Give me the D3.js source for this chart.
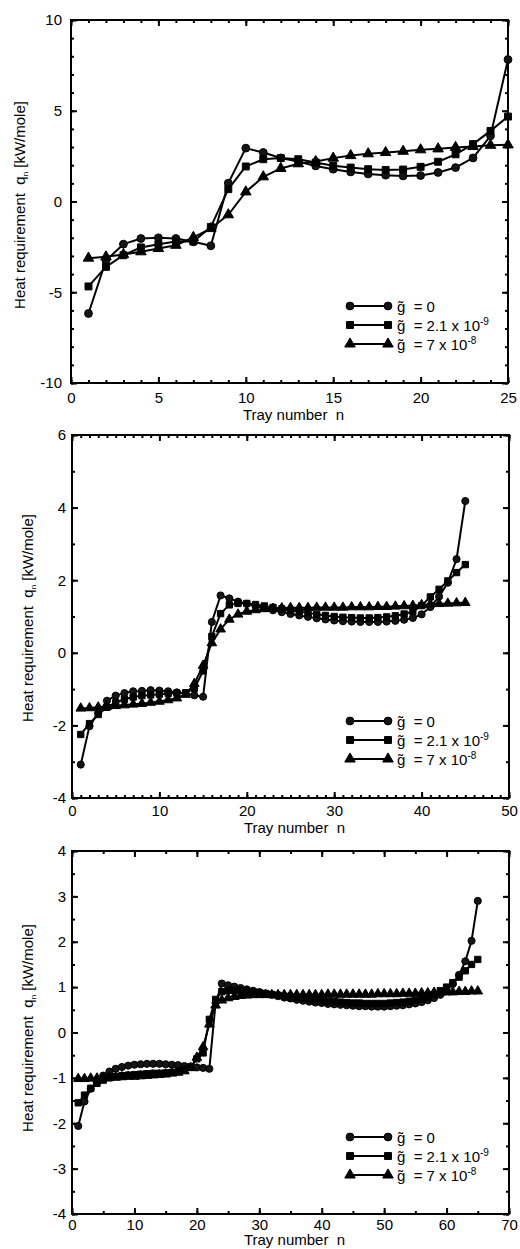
<!DOCTYPE html>
<html>
<head>
<meta charset="utf-8">
<script src="https://cdn.jsdelivr.net/npm/d3@7"></script>
<style>
  body { margin: 0; background: #fff; }
  svg { display: block; }
  text { font-family: "Liberation Sans", Arial, sans-serif; fill: #000; }
</style>
</head>
<body>
<script>
// Heat requirement q_n per tray, three towers (25, 45, 65 trays)
var legendLabels = ["= 0", "= 2.1 x 10", "= 7 x 10"];
var legendExps = ["", "-9", "-8"];

var p1XTicks = [0, 5, 10, 15, 20, 25];
var p1YTicks = [-10, -5, 0, 5, 10];
var p1Circle = [-6.17, -3.25, -2.35, -2.04, -2.0, -2.04, -2.22, -2.44, 1.01, 2.94,
  2.7, 2.4, 2.2, 1.96, 1.78, 1.63, 1.52, 1.45, 1.41, 1.43, 1.6, 1.87, 2.4, 3.62, 7.82];
var p1Square = [-4.68, -3.6, -2.96, -2.53, -2.35, -2.2, -2.2, -1.4, 0.68, 1.93,
  2.33, 2.39, 2.33, 2.15, 1.97, 1.87, 1.78, 1.74, 1.76, 1.91, 2.19, 2.6, 3.16, 3.89, 4.68];
var p1Triangle = [-3.12, -3.05, -2.92, -2.77, -2.59, -2.41, -1.98, -1.49, -0.73, 0.53,
  1.36, 1.82, 2.08, 2.2, 2.39, 2.53, 2.63, 2.7, 2.77, 2.85, 2.9, 2.98, 3.03, 3.1, 3.12];

var p2XTicks = [0, 10, 20, 30, 40, 50];
var p2YTicks = [-4, -2, 0, 2, 4, 6];
var p2Circle = [-3.08, -2.02, -1.66, -1.32, -1.18, -1.11, -1.06, -1.05, -1.03, -1.04,
  -1.06, -1.09, -1.12, -1.17, -1.21, 0.85, 1.58, 1.5, 1.41, 1.35,
  1.29, 1.23, 1.17, 1.12, 1.07, 1.03, 0.99, 0.95, 0.92, 0.89,
  0.87, 0.86, 0.85, 0.85, 0.85, 0.86, 0.88, 0.91, 0.96, 1.06,
  1.26, 1.55, 1.93, 2.58, 4.18];
var p2Square = [-2.25, -1.95, -1.7, -1.5, -1.37, -1.28, -1.22, -1.18, -1.16, -1.14,
  -1.12, -1.11, -1.1, -0.98, -0.5, 0.45, 1.08, 1.32, 1.36, 1.36,
  1.33, 1.29, 1.25, 1.21, 1.17, 1.13, 1.1, 1.06, 1.03, 1.0,
  0.98, 0.97, 0.96, 0.96, 0.97, 0.99, 1.02, 1.07, 1.14, 1.3,
  1.54, 1.75, 1.98, 2.21, 2.43];
var p2Triangle = [-1.53, -1.52, -1.5, -1.48, -1.46, -1.44, -1.42, -1.4, -1.37, -1.34,
  -1.3, -1.25, -1.15, -0.85, -0.35, 0.27, 0.65, 0.92, 1.06, 1.14,
  1.18, 1.21, 1.22, 1.23, 1.24, 1.24, 1.24, 1.25, 1.25, 1.25,
  1.25, 1.26, 1.26, 1.26, 1.27, 1.27, 1.28, 1.29, 1.3, 1.32,
  1.34, 1.35, 1.36, 1.37, 1.38];

var p3XTicks = [0, 10, 20, 30, 40, 50, 60, 70];
var p3YTicks = [-4, -3, -2, -1, 0, 1, 2, 3, 4];
var p3Circle = [-2.06, -1.52, -1.24, -1.1, -0.95, -0.86, -0.8, -0.76, -0.73, -0.71,
  -0.7, -0.69, -0.69, -0.69, -0.7, -0.71, -0.72, -0.74, -0.75, -0.77,
  -0.78, -0.8, 0.65, 1.08, 1.04, 1.01, 0.98, 0.95, 0.92, 0.89,
  0.86, 0.83, 0.8, 0.77, 0.75, 0.72, 0.7, 0.68, 0.66, 0.65,
  0.63, 0.62, 0.61, 0.6, 0.59, 0.58, 0.58, 0.57, 0.57, 0.57,
  0.58, 0.59, 0.6, 0.62, 0.64, 0.67, 0.71, 0.76, 0.83, 0.93,
  1.07, 1.27, 1.57, 2.02, 2.9];
var p3Square = [-1.55, -1.38, -1.23, -1.12, -1.05, -1.0, -0.97, -0.95, -0.94, -0.93,
  -0.92, -0.91, -0.9, -0.9, -0.89, -0.88, -0.86, -0.83, -0.76, -0.58,
  -0.45, 0.29, 0.73, 0.9, 0.93, 0.93, 0.92, 0.91, 0.9, 0.88,
  0.86, 0.84, 0.82, 0.8, 0.78, 0.77, 0.75, 0.73, 0.72, 0.7,
  0.69, 0.68, 0.67, 0.66, 0.65, 0.65, 0.64, 0.64, 0.64, 0.64,
  0.65, 0.66, 0.67, 0.69, 0.71, 0.74, 0.78, 0.84, 0.92, 1.0,
  1.1, 1.22, 1.36, 1.5, 1.61];
var p3Triangle = [-1.02, -1.02, -1.01, -1.01, -1.0, -0.99, -0.99, -0.98, -0.97, -0.97,
  -0.96, -0.95, -0.94, -0.93, -0.92, -0.9, -0.88, -0.85, -0.78, -0.55,
  -0.32, 0.18, 0.6, 0.71, 0.76, 0.79, 0.81, 0.82, 0.83, 0.83,
  0.83, 0.83, 0.83, 0.83, 0.83, 0.83, 0.83, 0.83, 0.83, 0.83,
  0.84, 0.84, 0.84, 0.84, 0.84, 0.84, 0.84, 0.84, 0.85, 0.85,
  0.85, 0.85, 0.86, 0.86, 0.86, 0.87, 0.87, 0.88, 0.88, 0.89,
  0.89, 0.9, 0.9, 0.91, 0.91];

var panels = [
  { top: 20, bottom: 383, left: 71, right: 508, xTicks: p1XTicks, yTicks: p1YTicks,
    xMinor: 1, yMinor: 1, series: [p1Circle, p1Square, p1Triangle],
    tickPad: 9, yTickPad: 9, titleBase: 37, yLabX: 25, yLabCy: 205, msize: 48 },
  { top: 435, bottom: 798, left: 72, right: 509, xTicks: p2XTicks, yTicks: p2YTicks,
    xMinor: 1, yMinor: 1, series: [p2Circle, p2Square, p2Triangle],
    tickPad: 7, yTickPad: 6, titleBase: 35, yLabX: 33, yLabCy: 618, msize: 40 },
  { top: 851, bottom: 1214, left: 72, right: 509, xTicks: p3XTicks, yTicks: p3YTicks,
    xMinor: 5, yMinor: 0.5, series: [p3Circle, p3Square, p3Triangle],
    tickPad: 5, yTickPad: 6, titleBase: 31, yLabX: 33, yLabCy: 1028, msize: 40 }
];

var symbols = [d3.symbolCircle, d3.symbolSquare, d3.symbolTriangle];
var plainNum = function (d) { return String(d); }; // hyphen minus like the original

var svg = d3.select("body").append("svg")
  .attr("width", 520)
  .attr("height", 1249);

panels.forEach(function (p) {
  var w = p.right - p.left;
  var h = p.bottom - p.top;
  var xs = p.xTicks, ys = p.yTicks;

  var x = d3.scaleLinear().domain([xs[0], xs[xs.length - 1]]).range([0, w]);
  var y = d3.scaleLinear().domain([ys[0], ys[ys.length - 1]]).range([h, 0]);

  var g = svg.append("g")
    .attr("transform", "translate(" + p.left + "," + p.top + ")");

  var xMinorVals = d3.range(xs[0], xs[xs.length - 1] + 1e-9, p.xMinor);
  var yMinorVals = d3.range(ys[0], ys[ys.length - 1] + 1e-9, p.yMinor);

  function styleAxis(sel) {
    sel.select(".domain").remove();
    sel.selectAll("line").attr("stroke", "#000").attr("stroke-width", 2);
    sel.selectAll("text").attr("font-size", 15)
      .style("font-family", "'Liberation Sans', Arial, sans-serif").attr("fill", "#000");
  }

  // minor ticks (inside, all four sides)
  g.append("g").attr("transform", "translate(0," + h + ")")
    .call(d3.axisBottom(x).tickValues(xMinorVals).tickSize(-3).tickFormat(""))
    .call(styleAxis);
  g.append("g")
    .call(d3.axisTop(x).tickValues(xMinorVals).tickSize(-3).tickFormat(""))
    .call(styleAxis);
  g.append("g")
    .call(d3.axisLeft(y).tickValues(yMinorVals).tickSize(-3).tickFormat(""))
    .call(styleAxis);
  g.append("g").attr("transform", "translate(" + w + ",0)")
    .call(d3.axisRight(y).tickValues(yMinorVals).tickSize(-3).tickFormat(""))
    .call(styleAxis);

  // major ticks with labels
  g.append("g").attr("transform", "translate(0," + h + ")")
    .call(d3.axisBottom(x).tickValues(xs).tickSize(-6).tickPadding(p.tickPad).tickFormat(plainNum))
    .call(styleAxis);
  g.append("g")
    .call(d3.axisTop(x).tickValues(xs).tickSize(-6).tickFormat(""))
    .call(styleAxis);
  g.append("g")
    .call(d3.axisLeft(y).tickValues(ys).tickSize(-6).tickPadding(p.yTickPad).tickFormat(plainNum))
    .call(styleAxis);
  g.append("g").attr("transform", "translate(" + w + ",0)")
    .call(d3.axisRight(y).tickValues(ys).tickSize(-6).tickFormat(""))
    .call(styleAxis);

  // frame
  g.append("rect")
    .attr("width", w).attr("height", h)
    .attr("fill", "none").attr("stroke", "#000").attr("stroke-width", 2);

  // series
  var line = d3.line()
    .x(function (d, i) { return x(i + 1); })
    .y(function (d) { return y(d); });

  p.series.forEach(function (vals) {
    g.append("path")
      .datum(vals)
      .attr("d", line)
      .attr("fill", "none")
      .attr("stroke", "#000")
      .attr("stroke-width", 2)
      .attr("stroke-linejoin", "round");
  });
  p.series.forEach(function (vals, k) {
    g.selectAll(".m" + k)
      .data(vals)
      .enter()
      .append("path")
      .attr("class", "m" + k)
      .attr("transform", function (d, i) { return "translate(" + x(i + 1) + "," + y(d) + ")"; })
      .attr("d", d3.symbol().type(symbols[k]).size(p.msize))
      .attr("fill", k === 0 ? "#151515" : "#000")
      .attr("stroke", "#000")
      .attr("stroke-width", 1);
  });

  // legend
  var legOff = [77, 58, 39];
  legendLabels.forEach(function (lab, k) {
    var ly = h - legOff[k];
    var lg = g.append("g").attr("transform", "translate(0," + ly + ")");
    var x0 = 350 - p.left, x1 = 388 - p.left;
    lg.append("line").attr("x1", x0).attr("x2", x1)
      .attr("stroke", "#000").attr("stroke-width", 2);
    [x0, x1].forEach(function (xx) {
      lg.append("path")
        .attr("transform", "translate(" + xx + ",0)")
        .attr("d", d3.symbol().type(symbols[k]).size(48))
        .attr("fill", k === 0 ? "#151515" : "#000")
        .attr("stroke", "#000");
    });
    var t = lg.append("text")
      .attr("x", 397 - p.left)
      .attr("y", 5.5)
      .attr("font-size", 15)
      .style("white-space", "pre");
    t.append("tspan").text("g\u0303  " + lab);
    if (legendExps[k]) {
      t.append("tspan").attr("dy", -6).attr("font-size", 10).text(legendExps[k]);
    }
  });

  // axis titles
  svg.append("text")
    .attr("x", (p.left + p.right) / 2 + 4)
    .attr("y", p.bottom + p.titleBase)
    .attr("text-anchor", "middle")
    .attr("font-size", 15)
    .style("white-space", "pre")
    .text("Tray number  n");

  var yt = svg.append("text")
    .attr("transform", "translate(" + p.yLabX + "," + p.yLabCy + ") rotate(-90)")
    .attr("text-anchor", "middle")
    .attr("font-size", 15)
    .style("white-space", "pre");
  yt.append("tspan").text("Heat requirement  q");
  yt.append("tspan").attr("font-size", 8).attr("dy", 3).text("n");
  yt.append("tspan").attr("dy", -3).text(" [kW/mole]");
});
</script>
</body>
</html>
